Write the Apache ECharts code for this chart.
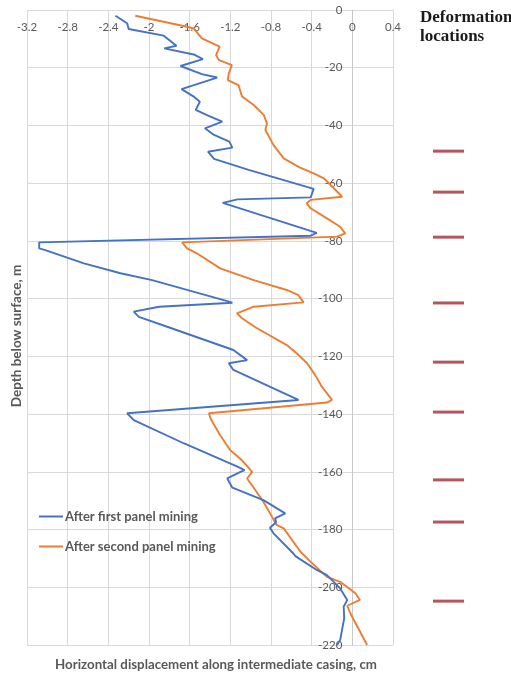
<!DOCTYPE html>
<html>
<head>
<meta charset="utf-8">
<script src="https://cdn.jsdelivr.net/npm/echarts@6/dist/echarts.min.js"></script>
<style>
html,body{margin:0;padding:0;background:#fff;}
#chart{width:511px;height:674px;}
</style>
</head>
<body>
<div id="chart"></div>
<script>
// Series names
const seriesNames = ['After first panel mining', 'After second panel mining'];

// After first panel mining: depth (m) and displacement (cm)
const firstDepth = [-2.0, -4.6, -6.6, -8.9, -12.4, -13.3, -15.4, -17.0, -19.4, -22.2, -23.4, -27.4, -30.0, -31.8, -34.6, -36.4, -38.7, -41.0, -43.3, -45.6, -47.7, -49.1, -51.6, -55.4,
  -62.0, -64.9, -65.6, -66.8, -77.2, -78.2, -80.5, -82.6, -83.2, -87.8, -91.2, -93.6, -94.7, -100.5, -101.4, -102.8, -104.5, -106.3, -110.0,
  -117.8, -121.3, -122.4, -124.7, -135.1, -139.7, -142.1, -150.1, -158.2, -159.4, -160.0, -162.3, -165.5,
  -169.8, -174.4, -176.1, -177.5, -179.4, -181.3, -188.3, -189.2, -194.0, -195.8, -200.4, -204.4, -206.7, -210.8, -218.3, -220.0];
const firstDisp = [-2.33, -2.215, -2.2, -1.855, -1.73, -1.85, -1.56, -1.47, -1.69, -1.48, -1.33, -1.68, -1.56, -1.50, -1.54, -1.43, -1.28, -1.45, -1.36, -1.21, -1.18, -1.42, -1.36, -1.02,
  -0.38, -0.41, -1.13, -1.275, -0.35, -0.41, -3.08, -3.08, -3.02, -2.64, -2.28, -1.97, -1.855, -1.265, -1.18, -1.90, -2.15, -2.10, -1.80,
  -1.17, -1.035, -1.215, -1.17, -0.53, -2.215, -2.15, -1.66, -1.13, -1.06, -1.10, -1.23, -1.18,
  -0.875, -0.66, -0.76, -0.75, -0.81, -0.775, -0.58, -0.56, -0.35, -0.25, -0.12, -0.05, -0.085, -0.08, -0.12, -0.15];

// After second panel mining: depth (m) and displacement (cm)
const secondDepth = [-2.0, -5.8, -6.4, -9.8, -12.7, -15.6, -17.3, -19.1, -19.6, -21.9, -24.3, -26.0, -30.0, -32.9, -36.4, -39.3, -41.6, -46.8, -51.4, -54.5,
  -56.6, -58.3, -64.7, -65.8, -67.0, -68.7, -72.2, -75.1, -77.4, -78.5, -80.5, -82.6, -84.3, -89.5, -93.6, -97.0, -98.8, -101.3, -102.8, -105.1, -106.8, -110.0,
  -116.1, -119.0, -122.4, -126.5, -130.5, -135.1, -136.0, -139.7, -141.5, -147.3, -152.5, -156.0, -160.0, -162.3, -165.5,
  -170.4, -175.6, -178.4, -179.6, -187.7, -191.2, -196.4, -198.1, -202.1, -204.4, -206.4, -209.0, -220.0];
const secondDisp = [-2.135, -1.625, -1.56, -1.48, -1.305, -1.34, -1.315, -1.185, -1.17, -1.215, -1.225, -1.12, -1.085, -0.97, -0.87, -0.84, -0.855, -0.775, -0.675, -0.52,
  -0.38, -0.28, -0.10, -0.41, -0.45, -0.41, -0.25, -0.12, -0.07, -0.15, -1.675, -1.625, -1.53, -1.30, -0.97, -0.645, -0.53, -0.48, -0.97, -1.135, -1.085, -0.95,
  -0.645, -0.545, -0.445, -0.365, -0.30, -0.20, -0.25, -1.41, -1.395, -1.30, -1.20, -1.085, -0.985, -1.035, -0.97,
  -0.875, -0.79, -0.745, -0.675, -0.51, -0.41, -0.25, -0.12, 0.03, 0.075, -0.05, -0.02, 0.145];

// Deformation locations (depth, m)
const deformationDepths = [-48.9, -63.1, -78.7, -101.5, -122.0, -139.3, -162.8, -177.4, -204.8];

// Axis ranges / ticks
const xMin = -3.2, xMax = 0.4, xStep = 0.4;
const yMin = -220, yMax = 0, yStep = 20;

const pairs = (xs, ys) => xs.map((x, i) => [x, ys[i]]);

const gray = '#595959';
const gridColor = '#d9d9d9';
const font = 'Lato, "Open Sans", sans-serif';
const gridLeft = 27;

const chart = echarts.init(document.getElementById('chart'), null, {renderer: 'canvas'});
chart.setOption({
  animation: false,
  backgroundColor: '#ffffff',
  grid: [
    {left: gridLeft, right: 118, top: 10, bottom: 29, containLabel: false, outerBoundsMode: 'none'},
    {left: 431, width: 35, top: 10, bottom: 29, containLabel: false, outerBoundsMode: 'none'}
  ],
  xAxis: [
    {
      type: 'value', gridIndex: 0, position: 'top',
      min: xMin, max: xMax, interval: xStep,
      axisLine: {show: false, onZero: false},
      axisTick: {show: false},
      splitLine: {show: true, lineStyle: {color: gridColor, width: 1}},
      axisLabel: {inside: true, margin: 11, color: gray, fontSize: 11.5, fontFamily: font,
        formatter: v => String(Math.round(v * 10) / 10)}
    },
    {type: 'value', gridIndex: 1, min: 0, max: 1, show: false}
  ],
  yAxis: [
    {
      type: 'value', gridIndex: 0, position: 'left',
      min: yMin, max: yMax, interval: yStep,
      axisLine: {show: true, onZero: false, lineStyle: {color: '#c8c8c8', width: 1}},
      axisTick: {show: false},
      splitLine: {show: true, lineStyle: {color: gridColor, width: 1}},
      axisLabel: {margin: 10, color: gray, fontSize: 11.5, fontFamily: font}
    },
    {type: 'value', gridIndex: 1, min: yMin, max: yMax, show: false}
  ],
  legend: {
    orient: 'vertical', left: 39, top: 510, padding: 0,
    icon: 'rect', itemWidth: 24, itemHeight: 2, itemGap: 17,
    textStyle: {color: gray, fontSize: 13, fontWeight: 'bold', fontFamily: font, padding: [0, 0, 0, -3]},
    data: seriesNames
  },
  series: [
    {
      name: seriesNames[0], type: 'line', xAxisIndex: 0, yAxisIndex: 0,
      data: pairs(firstDisp, firstDepth), symbol: 'none', smooth: false,
      lineStyle: {color: '#4472c4', width: 1.9}, itemStyle: {color: '#4472c4'}, z: 3
    },
    {
      name: seriesNames[1], type: 'line', xAxisIndex: 0, yAxisIndex: 0,
      data: pairs(secondDisp, secondDepth), symbol: 'none', smooth: false,
      lineStyle: {color: '#ed7d31', width: 1.9}, itemStyle: {color: '#ed7d31'}, z: 2
    },
    {
      name: 'Deformation locations', type: 'scatter', xAxisIndex: 1, yAxisIndex: 1,
      data: deformationDepths.map(d => [0.5, d]),
      symbol: 'rect', symbolSize: [31, 3],
      itemStyle: {color: '#a52a36'}, silent: true
    }
  ],
  graphic: [
    {type: 'text', left: 420, top: 8,
      style: {text: 'Deformation\nlocations', fill: '#1a1a1a', font: 'bold 17px "Liberation Serif", serif', lineHeight: 19}},
    {type: 'text', x: 17, y: 336, rotation: Math.PI / 2,
      style: {text: 'Depth below surface, m', fill: gray, font: 'bold 13.5px ' + font, textAlign: 'center', textVerticalAlign: 'middle'}},
    {type: 'text', x: 216, y: 665,
      style: {text: 'Horizontal displacement along intermediate casing, cm', fill: gray, font: 'bold 13.3px ' + font, textAlign: 'center', textVerticalAlign: 'middle'}}
  ]
});

// Move the depth axis so it crosses the displacement axis at x = 0 (as in the source chart)
const zeroPx = chart.convertToPixel({xAxisIndex: 0}, 0);
chart.setOption({yAxis: [{offset: -(zeroPx - gridLeft)}, {}]});
</script>
</body>
</html>
